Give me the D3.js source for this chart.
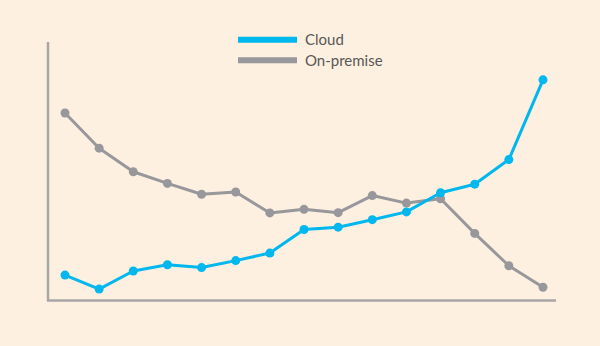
<!DOCTYPE html>
<html>
<head>
<meta charset="utf-8">
<script src="https://cdn.jsdelivr.net/npm/d3@7"></script>
<style>
  html, body { margin: 0; padding: 0; background: #fdf0e0; }
  svg { display: block; }
</style>
</head>
<body>
<svg id="chart" width="600" height="346"></svg>
<script>
const periods = [1, 2, 3, 4, 5, 6, 7, 8, 9, 10, 11, 12, 13, 14, 15];
const cloud = [10.0, 4.6, 11.6, 14.0, 12.9, 15.6, 18.5, 27.6, 28.5, 31.4, 34.4, 41.8, 45.1, 54.6, 85.4];
const onPremise = [72.6, 59.0, 49.9, 45.4, 41.2, 42.1, 34.0, 35.4, 34.1, 40.7, 37.8, 39.5, 26.1, 13.6, 5.3];
const seriesNames = ["Cloud", "On-premise"];
const seriesColors = ["#00b7ee", "#98979b"];

const svg = d3.select("#chart");
const x = d3.scalePoint().domain(periods).range([65, 543]);
const y = d3.scaleLinear().domain([0, 100]).range([301, 42]);

// axes
svg.append("line").attr("x1", 48).attr("x2", 48).attr("y1", 42).attr("y2", 301)
  .attr("stroke", "#a8a6a6").attr("stroke-width", 2.5);
svg.append("line").attr("x1", 47).attr("x2", 556).attr("y1", 300.5).attr("y2", 300.5)
  .attr("stroke", "#a8a6a6").attr("stroke-width", 2.5);

const series = [onPremise, cloud];
const colorsOrdered = [seriesColors[1], seriesColors[0]];
const line = d3.line().x((d, i) => x(periods[i])).y(d => y(d));

series.forEach((vals, k) => {
  const c = colorsOrdered[k];
  svg.append("path").datum(vals).attr("d", line)
    .attr("fill", "none").attr("stroke", c).attr("stroke-width", 3)
    .attr("stroke-linejoin", "round");
  svg.selectAll(null).data(vals).enter().append("circle")
    .attr("cx", (d, i) => x(periods[i])).attr("cy", d => y(d))
    .attr("r", 4.5).attr("fill", c);
});

// legend
const legend = svg.append("g");
seriesNames.forEach((name, i) => {
  const yy = 39.7 + i * 20.6;
  legend.append("line").attr("x1", 238).attr("x2", 297).attr("y1", yy).attr("y2", yy)
    .attr("stroke", seriesColors[i]).attr("stroke-width", 6);
  legend.append("text").attr("x", 305).attr("y", yy + 5.5)
    .attr("font-family", "Lato, 'Open Sans', sans-serif").attr("font-size", 15)
    .attr("fill", "#5a5757").text(name);
});
</script>
</body>
</html>
